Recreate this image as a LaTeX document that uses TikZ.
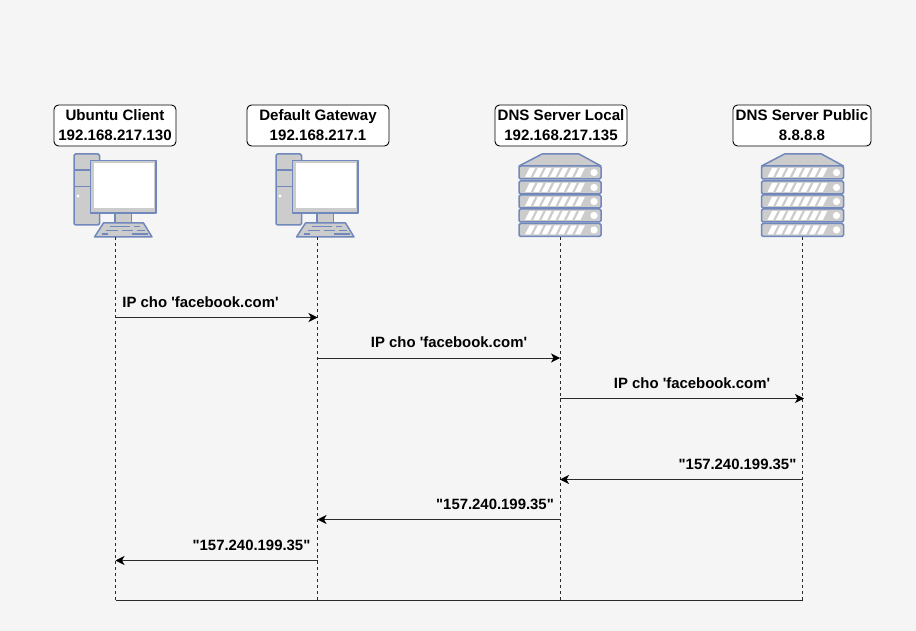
\documentclass[tikz,border=0pt]{standalone}
\usepackage{fontspec}
\setmainfont{Liberation Sans}[Ligatures=TeXOff]
\usetikzlibrary{arrows.meta}
\definecolor{bgc}{HTML}{F5F5F5}
\definecolor{ico}{HTML}{7088BC}
\definecolor{icf}{HTML}{CCCCCC}
\definecolor{lnc}{HTML}{2A2A2A}
\tikzset{
  x=1pt,y=-1pt,
  labelbox/.style={draw=black,fill=white,rounded corners=4.5pt,line width=0.9pt,align=center,font=\bfseries\fontsize{15.1}{20}\selectfont,inner sep=0pt,minimum height=41pt},
  msg/.style={font=\bfseries\fontsize{14.9}{17}\selectfont,inner sep=0pt,anchor=base},
  life/.style={draw=lnc,line width=0.9pt,dash pattern=on 3pt off 3pt},
  arrowline/.style={draw=lnc,line width=1pt,-{Stealth[length=9pt,width=9pt,inset=2.5pt,color=black]}},
  baseline/.style={draw=lnc,line width=1pt},
  iconshape/.style={draw=ico,fill=icf,line width=1.5pt,line join=round},
  pc/.pic={
    \draw[iconshape,rounded corners=1.5pt] (-41.5,-83) rectangle (-16,-12);
    \draw[ico,line width=1.3pt] (-41.5,-67) -- (-16,-67) (-41.5,-50.5) -- (-16,-50.5);
    \fill[white] (-37.5,-41) circle (1.7);
    \draw[iconshape] (-0.5,-24) rectangle (16,-14);
    \draw[iconshape] (-25,-76.5) rectangle (40.5,-24);
    \fill[white] (-22,-73.5) rectangle (38,-29);
    \draw[iconshape] (-12,-14) -- (28,-14) -- (36.5,0) -- (-21,0) -- cycle;
    \draw[ico,line width=1.3pt] (-6,-10.5) -- (14,-10.5) (18,-10.5) -- (24,-10.5)
      (-10,-6.5) -- (2,-6.5) (6,-6.5) -- (17,-6.5) (21,-6.5) -- (29,-6.5)
      (-14,-3) -- (-8,-3) (16,-3) -- (32,-3);
  },
  srv/.pic={
    \draw[iconshape] (-18,-83) -- (19,-83) -- (41,-71) -- (-41,-71) -- cycle;
    \foreach \t in {-71,-56,-42,-28,-13.5}{
      \draw[iconshape,rounded corners=1.5pt] (-41,\t) rectangle (41,\t+13);
      \fill[white] (34,\t+6.5) circle (3.6);
      \foreach \k in {0,...,6}{
        \fill[white] (-35+\k*8.3,\t+11) -- (-29.5+\k*8.3,\t+11) -- (-25+\k*8.3,\t+2) -- (-30.5+\k*8.3,\t+2) -- cycle;
      }
    }
  }
}
\begin{document}
\begin{tikzpicture}
\useasboundingbox[fill=bgc] (0,0) rectangle (916,631);
% labels
\node[labelbox,minimum width=122pt] (lu) at (115,125.5) {Ubuntu Client\\192.168.217.130};
\node[labelbox,minimum width=142pt] (lg) at (318,125.5) {Default Gateway\\192.168.217.1};
\node[labelbox,minimum width=132pt] (ll) at (561,125.5) {DNS Server Local\\192.168.217.135};
\node[labelbox,minimum width=138pt] (lp) at (802,125.5) {DNS Server Public\\8.8.8.8};
% icons
\pic at (115.5,237) {pc};
\pic at (317.5,237) {pc};
\pic at (560,237) {srv};
\pic at (802.5,237) {srv};
% lifeline ends
\coordinate (ut) at (115.5,237); \coordinate (ub) at (115.5,600.5);
\coordinate (gt) at (317.5,237); \coordinate (gb) at (317.5,600.5);
\coordinate (lt) at (560,237);   \coordinate (lb) at (560,600.5);
\coordinate (pt) at (802.5,237); \coordinate (pb) at (802.5,600.5);
\draw[life] (ut) -- (ub);
\draw[life] (gt) -- (gb);
\draw[life] (lt) -- (lb);
\draw[life] (pt) -- (pb);
\draw[baseline] (ub) -- (pb);
% message anchors
\coordinate (m1a) at (115.5,317.5); \coordinate (m1b) at (317.5,317.5);
\coordinate (m2a) at (317.5,358);   \coordinate (m2b) at (560,358);
\coordinate (m3a) at (560,398.5);   \coordinate (m3b) at (804,398.5);
\coordinate (m4a) at (802.5,479.5); \coordinate (m4b) at (560,479.5);
\coordinate (m5a) at (560,519.5);   \coordinate (m5b) at (317.5,519.5);
\coordinate (m6a) at (317.5,560.5); \coordinate (m6b) at (115.5,560.5);
\draw[arrowline] (m1a) -- (m1b);
\draw[arrowline] (m2a) -- (m2b);
\draw[arrowline] (m3a) -- (m3b);
\draw[arrowline] (m4a) -- (m4b);
\draw[arrowline] (m5a) -- (m5b);
\draw[arrowline] (m6a) -- (m6b);
\node[msg] (t1) at (200.5,307) {IP cho 'facebook.com'};
\node[msg] (t2) at (449,347) {IP cho 'facebook.com'};
\node[msg] (t3) at (692,388) {IP cho 'facebook.com'};
\node[msg] (t4) at (737.5,469) {"157.240.199.35"};
\node[msg] (t5) at (495,509) {"157.240.199.35"};
\node[msg] (t6) at (251.5,550) {"157.240.199.35"};
\end{tikzpicture}
\end{document}
